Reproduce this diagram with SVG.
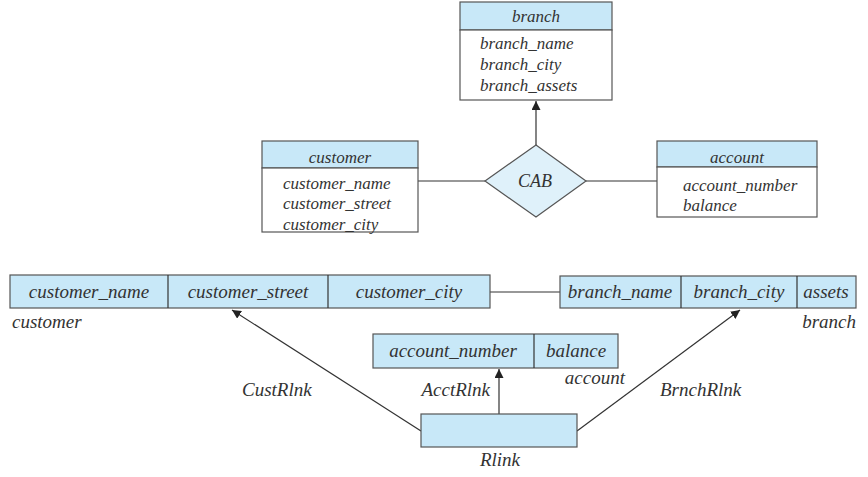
<svg xmlns="http://www.w3.org/2000/svg" width="868" height="477" viewBox="0 0 868 477">
<style>
text{font-family:"Liberation Serif","Times New Roman",serif;font-style:italic;fill:#333}
.t{font-size:17px}
.b{font-size:19px}
.m{text-anchor:middle}
.e{text-anchor:end}
.hd{fill:#c8e8f8;stroke:#555;stroke-width:1.2}
.bd{fill:#fff;stroke:#555;stroke-width:1.2}
.ln{stroke:#333;stroke-width:1.2;fill:none}
</style>
<defs>
<marker id="ah" viewBox="0 0 10 10" refX="10" refY="5" markerWidth="9" markerHeight="9" markerUnits="userSpaceOnUse" orient="auto">
<path d="M0,0 L10,5 L0,10 z" fill="#222"/>
</marker>
</defs>
<g id="connectors">
<line class="ln" x1="536" y1="145" x2="536" y2="101" marker-end="url(#ah)"/>
<line class="ln" x1="418" y1="181" x2="485" y2="181"/>
<line class="ln" x1="586" y1="181" x2="657" y2="181"/>
<line class="ln" x1="490" y1="292" x2="560" y2="292"/>
<line class="ln" x1="421" y1="431" x2="232" y2="310" marker-end="url(#ah)"/>
<line class="ln" x1="499" y1="414" x2="499" y2="369" marker-end="url(#ah)"/>
<line class="ln" x1="577" y1="431" x2="740" y2="310" marker-end="url(#ah)"/>
</g>
<g id="branch">
<rect class="hd" x="460" y="2" width="152" height="28"/>
<rect class="bd" x="460" y="30" width="152" height="70"/>
<text class="t m" x="536" y="22">branch</text>
<text class="t" x="480" y="49">branch_name</text>
<text class="t" x="480" y="70">branch_city</text>
<text class="t" x="480" y="91">branch_assets</text>
</g>
<g id="customer">
<rect class="hd" x="262" y="141" width="156" height="27"/>
<rect class="bd" x="262" y="168" width="156" height="64"/>
<text class="t m" x="340" y="163">customer</text>
<text class="t" x="283" y="189">customer_name</text>
<text class="t" x="283" y="209">customer_street</text>
<text class="t" x="283" y="230">customer_city</text>
</g>
<g id="CAB">
<polygon points="536,145 586,181 536,217 485,181" fill="#dff1fa" stroke="#555" stroke-width="1.2"/>
<text class="t m" x="535" y="187" style="font-size:18px">CAB</text>
</g>
<g id="account">
<rect class="hd" x="657" y="141" width="160" height="26"/>
<rect class="bd" x="657" y="167" width="160" height="50"/>
<text class="t m" x="737" y="163">account</text>
<text class="t" x="683" y="191">account_number</text>
<text class="t" x="683" y="211">balance</text>
</g>
<g id="customer_table">
<rect class="hd" x="10" y="275" width="480" height="33"/>
<line class="ln" x1="168" y1="275" x2="168" y2="308" stroke="#555"/>
<line class="ln" x1="328" y1="275" x2="328" y2="308" stroke="#555"/>
<text class="b m" x="89" y="298">customer_name</text>
<text class="b m" x="248" y="298">customer_street</text>
<text class="b m" x="409" y="298">customer_city</text>
<text class="b" x="12" y="328">customer</text>
</g>
<g id="branch_table">
<rect class="hd" x="560" y="276" width="296" height="32"/>
<line class="ln" x1="681" y1="276" x2="681" y2="308"/>
<line class="ln" x1="797" y1="276" x2="797" y2="308"/>
<text class="b m" x="620" y="298">branch_name</text>
<text class="b m" x="739" y="298">branch_city</text>
<text class="b m" x="826" y="298">assets</text>
<text class="b e" x="856" y="328">branch</text>
</g>
<g id="account_table">
<rect class="hd" x="373" y="334" width="245" height="34"/>
<line class="ln" x1="534" y1="334" x2="534" y2="368"/>
<text class="b m" x="453" y="357">account_number</text>
<text class="b m" x="576" y="357">balance</text>
<text class="b e" x="625" y="384">account</text>
</g>
<g id="Rlink">
<rect class="hd" x="421" y="414" width="156" height="33"/>
<text class="b m" x="500" y="466">Rlink</text>
</g>
<g id="labels">
<text class="b" x="242" y="396">CustRlnk</text>
<text class="b e" x="490" y="396">AcctRlnk</text>
<text class="b" x="660" y="396">BrnchRlnk</text>
</g>
</svg>
